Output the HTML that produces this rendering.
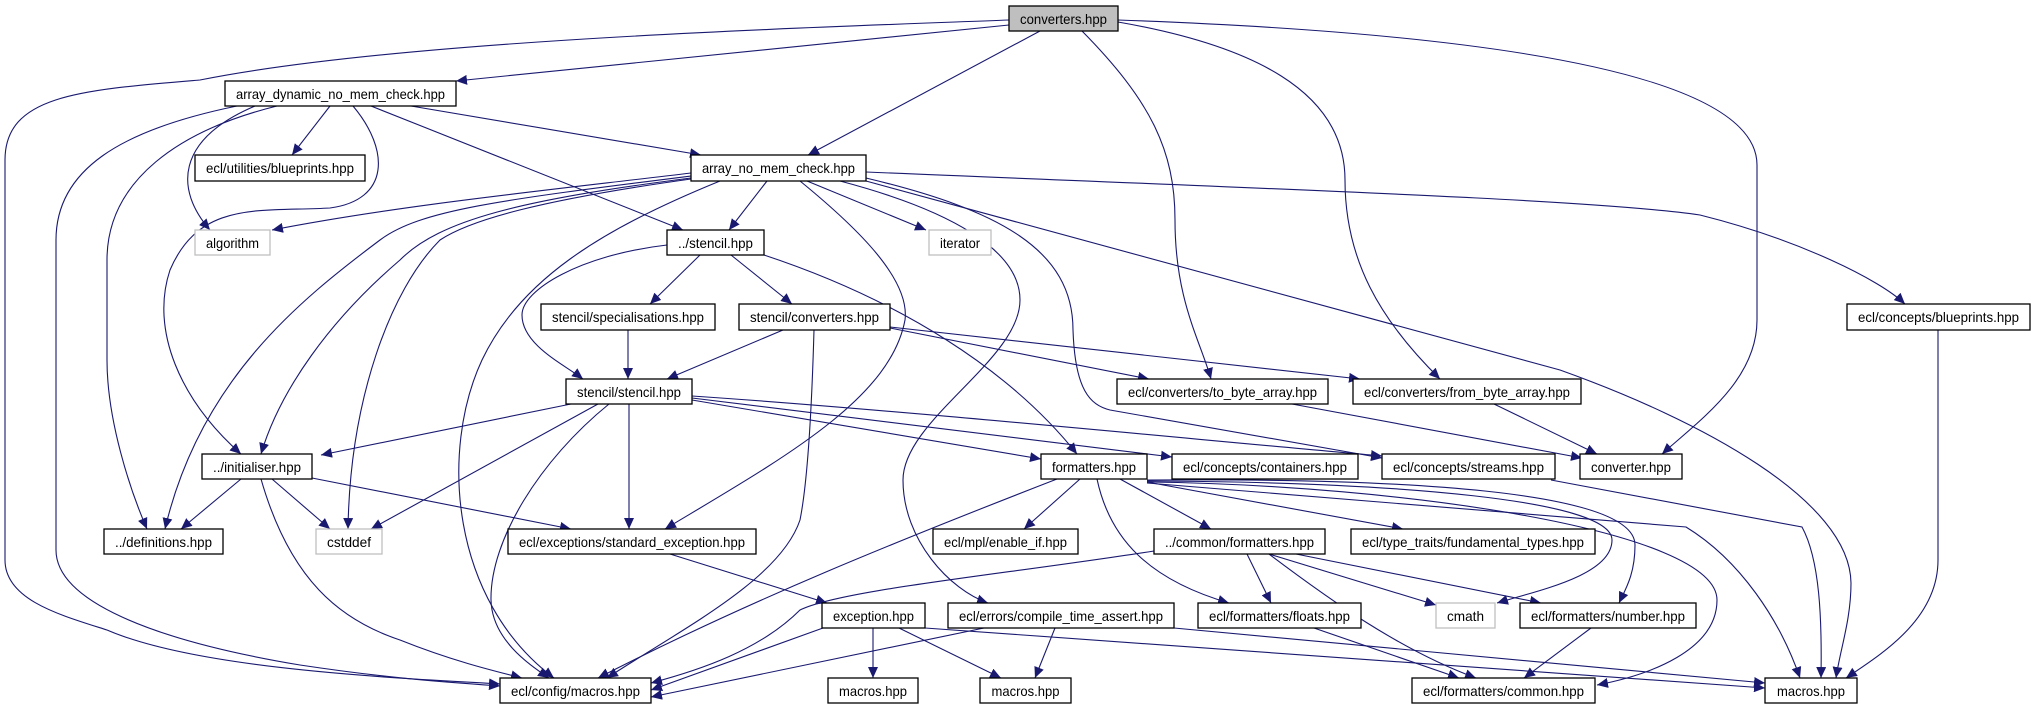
<!DOCTYPE html>
<html><head><meta charset="utf-8"><style>
html,body{margin:0;padding:0;background:#fff;}
svg{display:block;}
text{font-family:"Liberation Sans",sans-serif;font-size:14px;fill:#000;}
</style></head><body>
<svg width="2031" height="709" viewBox="0 0 2031 709" xmlns="http://www.w3.org/2000/svg">
<defs>
<marker id="a" markerUnits="userSpaceOnUse" markerWidth="12" markerHeight="10" refX="11" refY="5" orient="auto">
<path d="M0,0 L11,5 L0,10 z" fill="#191970"/>
</marker>
</defs>
<g fill="none" stroke="#191970" stroke-width="1.1" marker-end="url(#a)">
<path d="M1009,25 L456,81"/>
<path d="M1009,20 C800,28 400,40 200,80 C80,90 5,95 5,160 L5,560 C5,600 60,615 107,630 C200,670 400,678 500,684"/>
<path d="M1040,31 L808,155"/>
<path d="M1082,31 C1150,100 1175,150 1175,220 C1175,300 1200,340 1211,379"/>
<path d="M1118,22 C1250,45 1345,90 1345,180 C1345,260 1380,320 1440,379"/>
<path d="M1118,20 C1400,30 1757,60 1757,165 L1757,320 C1757,380 1700,420 1662,454"/>
<path d="M330,106 L292,155"/>
<path d="M255,106 C175,140 175,190 210,230"/>
<path d="M411,106 L701,155"/>
<path d="M371,106 L683,230"/>
<path d="M353,106 C390,150 390,200 330,208 C260,212 200,200 170,270 C150,330 180,400 241,454"/>
<path d="M277,106 C180,130 107,180 107,260 L107,360 C107,420 130,490 147,529"/>
<path d="M237,106 C120,130 56,170 56,240 L56,550 C56,600 150,640 300,665 C400,680 460,683 500,686"/>
<path d="M691,173 C550,190 400,205 272,230"/>
<path d="M767,181 L729,230"/>
<path d="M807,181 L926,230"/>
<path d="M691,176 C500,200 420,210 380,240 C300,300 200,380 165,529"/>
<path d="M691,178 C520,200 440,220 400,260 C330,320 280,390 261,454"/>
<path d="M691,179 C540,200 470,220 440,240 C390,290 350,400 348,529"/>
<path d="M720,181 C600,230 520,280 482,360 C440,450 450,600 554,678"/>
<path d="M800,181 C860,230 910,280 905,320 C890,400 780,460 665,529"/>
<path d="M840,181 C950,210 1020,250 1020,300 C1020,360 903,420 903,480 C903,540 950,590 988,603"/>
<path d="M866,178 C1000,210 1073,250 1073,330 C1075,390 1090,405 1110,410 L1382,458"/>
<path d="M866,181 L1560,370 C1700,420 1850,500 1851,583 C1851,620 1840,650 1836,678"/>
<path d="M866,172 C1300,190 1600,200 1700,215 C1800,240 1880,280 1905,304"/>
<path d="M700,255 L650,304"/>
<path d="M731,255 L792,304"/>
<path d="M667,245 C580,255 522,290 522,315 C522,345 565,365 583,379"/>
<path d="M764,255 C900,300 1010,370 1077,454"/>
<path d="M628,330 L628,379"/>
<path d="M783,330 L667,379"/>
<path d="M814,330 C812,400 808,480 800,520 C780,580 680,630 607,678"/>
<path d="M890,328 L1149,379"/>
<path d="M890,327 L1360,379"/>
<path d="M571,404 L321,455"/>
<path d="M598,404 L371,529"/>
<path d="M609,404 C540,460 490,540 491,600 C492,640 530,665 549,678"/>
<path d="M629,404 L629,529"/>
<path d="M692,400 L1041,459"/>
<path d="M692,398 L1172,457"/>
<path d="M692,396 C900,410 1200,440 1382,456"/>
<path d="M1292,404 L1582,458"/>
<path d="M1494,404 L1597,454"/>
<path d="M1938,330 L1938,560 C1938,620 1880,655 1846,678"/>
<path d="M1551,480 L1802,527 C1820,560 1822,620 1821,678"/>
<path d="M241,479 L181,529"/>
<path d="M272,479 L330,529"/>
<path d="M312,478 L571,529"/>
<path d="M261,479 C290,580 340,620 400,640 C450,660 490,670 522,678"/>
<path d="M670,554 L827,603"/>
<path d="M1080,479 L1024,529"/>
<path d="M1120,479 L1211,529"/>
<path d="M1147,482 L1403,529"/>
<path d="M1097,479 C1110,540 1150,580 1229,603"/>
<path d="M1057,479 C900,540 750,600 598,678"/>
<path d="M1147,481 C1400,482 1612,500 1612,540 C1612,575 1540,590 1497,603"/>
<path d="M1147,480 C1400,478 1635,490 1635,545 C1635,575 1625,590 1619,603"/>
<path d="M1147,482 C1400,485 1717,530 1717,600 C1717,650 1650,675 1597,685"/>
<path d="M1147,483 L1686,527 C1740,560 1780,620 1800,678"/>
<path d="M1154,551 C1000,575 840,590 800,610 C760,650 700,670 651,683"/>
<path d="M1247,554 L1271,603"/>
<path d="M1269,554 L1436,605"/>
<path d="M1296,554 L1541,603"/>
<path d="M1269,554 C1330,600 1400,650 1476,678"/>
<path d="M823,628 L651,690"/>
<path d="M873,628 L873,678"/>
<path d="M899,628 L1001,678"/>
<path d="M925,628 L1765,688"/>
<path d="M984,628 L651,697"/>
<path d="M1055,628 L1035,678"/>
<path d="M1174,628 L1765,683"/>
<path d="M1314,628 L1459,678"/>
<path d="M1591,628 L1524,678"/>
</g>
<g stroke-width="1.3" fill="#fff" stroke="#000">
<rect x="1009" y="6" width="109" height="25" fill="#bfbfbf"/>
<rect x="225" y="81" width="231" height="25"/>
<rect x="195" y="155" width="170" height="26"/>
<rect x="195" y="230" width="75" height="25" stroke="#bfbfbf"/>
<rect x="691" y="155" width="175" height="26"/>
<rect x="667" y="230" width="97" height="25"/>
<rect x="929" y="230" width="62" height="25" stroke="#bfbfbf"/>
<rect x="541" y="304" width="174" height="26"/>
<rect x="739" y="304" width="151" height="26"/>
<rect x="1847" y="304" width="183" height="26"/>
<rect x="566" y="379" width="126" height="25"/>
<rect x="1117" y="379" width="211" height="25"/>
<rect x="1353" y="379" width="228" height="25"/>
<rect x="202" y="454" width="110" height="25"/>
<rect x="1041" y="454" width="106" height="25"/>
<rect x="1172" y="454" width="186" height="25"/>
<rect x="1382" y="454" width="173" height="25"/>
<rect x="1580" y="454" width="102" height="25"/>
<rect x="104" y="529" width="119" height="25"/>
<rect x="316" y="529" width="66" height="25" stroke="#bfbfbf"/>
<rect x="508" y="529" width="248" height="25"/>
<rect x="933" y="529" width="145" height="25"/>
<rect x="1154" y="529" width="171" height="25"/>
<rect x="1351" y="529" width="244" height="25"/>
<rect x="822" y="603" width="103" height="25"/>
<rect x="948" y="603" width="226" height="25"/>
<rect x="1198" y="603" width="163" height="25"/>
<rect x="1436" y="603" width="59" height="25" stroke="#bfbfbf"/>
<rect x="1520" y="603" width="176" height="25"/>
<rect x="500" y="678" width="151" height="25"/>
<rect x="828" y="678" width="90" height="25"/>
<rect x="980" y="678" width="91" height="25"/>
<rect x="1412" y="678" width="183" height="25"/>
<rect x="1765" y="678" width="92" height="25"/>
</g>
<g text-anchor="middle">
<text x="1063.5" y="24" textLength="87" lengthAdjust="spacingAndGlyphs">converters.hpp</text>
<text x="340.5" y="99" textLength="209" lengthAdjust="spacingAndGlyphs">array_dynamic_no_mem_check.hpp</text>
<text x="280" y="173" textLength="148" lengthAdjust="spacingAndGlyphs">ecl/utilities/blueprints.hpp</text>
<text x="232.5" y="248" textLength="53" lengthAdjust="spacingAndGlyphs">algorithm</text>
<text x="778.5" y="173" textLength="153" lengthAdjust="spacingAndGlyphs">array_no_mem_check.hpp</text>
<text x="715.5" y="248" textLength="75" lengthAdjust="spacingAndGlyphs">../stencil.hpp</text>
<text x="960" y="248" textLength="40" lengthAdjust="spacingAndGlyphs">iterator</text>
<text x="628" y="322" textLength="152" lengthAdjust="spacingAndGlyphs">stencil/specialisations.hpp</text>
<text x="814.5" y="322" textLength="129" lengthAdjust="spacingAndGlyphs">stencil/converters.hpp</text>
<text x="1938.5" y="322" textLength="161" lengthAdjust="spacingAndGlyphs">ecl/concepts/blueprints.hpp</text>
<text x="629" y="397" textLength="104" lengthAdjust="spacingAndGlyphs">stencil/stencil.hpp</text>
<text x="1222.5" y="397" textLength="189" lengthAdjust="spacingAndGlyphs">ecl/converters/to_byte_array.hpp</text>
<text x="1467" y="397" textLength="206" lengthAdjust="spacingAndGlyphs">ecl/converters/from_byte_array.hpp</text>
<text x="257" y="472" textLength="88" lengthAdjust="spacingAndGlyphs">../initialiser.hpp</text>
<text x="1094" y="472" textLength="84" lengthAdjust="spacingAndGlyphs">formatters.hpp</text>
<text x="1265" y="472" textLength="164" lengthAdjust="spacingAndGlyphs">ecl/concepts/containers.hpp</text>
<text x="1468.5" y="472" textLength="151" lengthAdjust="spacingAndGlyphs">ecl/concepts/streams.hpp</text>
<text x="1631" y="472" textLength="80" lengthAdjust="spacingAndGlyphs">converter.hpp</text>
<text x="163.5" y="547" textLength="97" lengthAdjust="spacingAndGlyphs">../definitions.hpp</text>
<text x="349" y="547" textLength="44" lengthAdjust="spacingAndGlyphs">cstddef</text>
<text x="632" y="547" textLength="226" lengthAdjust="spacingAndGlyphs">ecl/exceptions/standard_exception.hpp</text>
<text x="1005.5" y="547" textLength="123" lengthAdjust="spacingAndGlyphs">ecl/mpl/enable_if.hpp</text>
<text x="1239.5" y="547" textLength="149" lengthAdjust="spacingAndGlyphs">../common/formatters.hpp</text>
<text x="1473" y="547" textLength="222" lengthAdjust="spacingAndGlyphs">ecl/type_traits/fundamental_types.hpp</text>
<text x="873.5" y="621" textLength="81" lengthAdjust="spacingAndGlyphs">exception.hpp</text>
<text x="1061" y="621" textLength="204" lengthAdjust="spacingAndGlyphs">ecl/errors/compile_time_assert.hpp</text>
<text x="1279.5" y="621" textLength="141" lengthAdjust="spacingAndGlyphs">ecl/formatters/floats.hpp</text>
<text x="1465.5" y="621" textLength="37" lengthAdjust="spacingAndGlyphs">cmath</text>
<text x="1608" y="621" textLength="154" lengthAdjust="spacingAndGlyphs">ecl/formatters/number.hpp</text>
<text x="575.5" y="696" textLength="129" lengthAdjust="spacingAndGlyphs">ecl/config/macros.hpp</text>
<text x="873" y="696" textLength="68" lengthAdjust="spacingAndGlyphs">macros.hpp</text>
<text x="1025.5" y="696" textLength="68" lengthAdjust="spacingAndGlyphs">macros.hpp</text>
<text x="1503.5" y="696" textLength="161" lengthAdjust="spacingAndGlyphs">ecl/formatters/common.hpp</text>
<text x="1811" y="696" textLength="68" lengthAdjust="spacingAndGlyphs">macros.hpp</text>
</g>
</svg>
</body></html>
